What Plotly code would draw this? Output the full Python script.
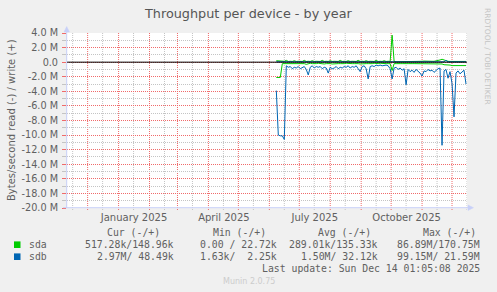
import plotly.graph_objects as go
import pandas as pd

# ---------------- data (values in millions of bytes/second) ----------------
dates = pd.date_range("2025-06-08", periods=96, freq="2D")

sda_write = [0.2, 0.2, 0.15, 0.1, 0.12,
             0.25, 0.1, 0.12, 0.1, 0.2,
             0.1, 0.12, 0.1, 0.1, 0.25,
             0.1, 0.12, 0.1, 0.2, 0.1,
             0.12, 0.1, 0.1, 0.25, 0.1,
             0.12, 0.1, 0.2, 0.1, 0.12,
             0.1, 0.1, 0.25, 0.1, 0.12,
             0.1, 0.2, 0.1, 0.12, 0.1,
             0.1, 0.25, 0.1, 0.12, 0.1,
             0.2, 0.1, 0.12, 0.1, 0.1,
             0.25, 0.1, 0.12, 0.1, 0.2,
             0.1, 0.12, 0.1, 3.7, 0.1,
             0.05, 0.05, 0.04, 0.05, 0.05,
             0.04, 0.05, 0.05, 0.04, 0.05,
             0.05, 0.05, 0.12, 0.12, 0.15,
             0.12, 0.12, 0.15, 0.12, 0.12,
             0.15, 0.2, 0.3, 0.4, 0.3,
             0.15, 0.12, 0.1, 0.1, 0.1,
             0.1, 0.1, 0.1, 0.1, 0.1,
             0.1]

sda_read = [2.1, 2.1, 2.1, 0.2, 0.2,
            0.15, 0.2, 0.25, 0.2, 0.15,
            0.2, 0.25, 0.2, 0.15, 0.2,
            0.3, 0.2, 0.15, 0.2, 0.25,
            0.2, 0.15, 0.2, 0.2, 0.25,
            0.2, 0.15, 0.2, 0.25, 0.2,
            0.15, 0.2, 0.2, 0.25, 0.2,
            0.15, 0.2, 0.25, 0.2, 0.2,
            0.15, 0.2, 0.25, 0.2, 0.15,
            0.2, 0.2, 0.25, 0.2, 0.15,
            0.2, 0.2, 0.15, 0.2, 0.25,
            0.2, 0.2, 0.2, 1.15, 0.2,
            0.2, 0.15, 0.2, 0.2, 0.25,
            0.2, 0.2, 0.15, 0.2, 0.2,
            0.2, 0.2, 0.15, 0.15, 0.15,
            0.15, 0.15, 0.15, 0.15, 0.15,
            0.15, 0.2, 0.25, 0.25, 0.35,
            0.35, 0.4, 0.4, 0.47, 0.47,
            0.47, 0.47, 0.47, 0.47, 0.47,
            0.47]

sdb_write = [0.05, 0.05, 0.04, 0.05, 0.05,
             0.05, 0.04, 0.05, 0.06, 0.05,
             0.04, 0.05, 0.05, 0.04, 0.05,
             0.05, 0.06, 0.05, 0.04, 0.05,
             0.05, 0.04, 0.05, 0.05, 0.06,
             0.05, 0.04, 0.05, 0.05, 0.04,
             0.05, 0.05, 0.06, 0.05, 0.04,
             0.05, 0.05, 0.04, 0.05, 0.05,
             0.06, 0.05, 0.04, 0.05, 0.05,
             0.04, 0.05, 0.05, 0.06, 0.05,
             0.04, 0.05, 0.05, 0.04, 0.05,
             0.05, 0.06, 0.05, 0.04, 0.05,
             0.05, 0.04, 0.05, 0.05, 0.06,
             0.05, 0.04, 0.05, 0.05, 0.04,
             0.05, 0.05, 0.06, 0.05, 0.04,
             0.05, 0.05, 0.04, 0.05, 0.05,
             0.06, 0.05, 0.04, 0.05, 0.05,
             0.25, 0.05, 0.05, 0.04, 0.05,
             0.05, 0.05, 0.04, 0.05, 0.05,
             0.05]

sdb_read = [3.9, 10.0, 10.1, 10.1, 10.6,
            0.5, 0.7, 0.6, 0.9, 0.7,
            0.8, 0.6, 0.9, 0.7, 0.6,
            1.0, 1.75, 0.7, 0.5, 0.8,
            0.6, 0.7, 0.6, 0.9, 0.7,
            0.8, 1.5, 0.7, 0.9, 0.8,
            0.6, 0.9, 0.7, 0.8, 0.6,
            0.7, 0.5, 0.8, 0.6, 0.7,
            0.5, 0.9, 1.3, 0.6, 0.5,
            0.9, 2.3, 0.6, 0.5, 0.6,
            0.4, 0.5, 0.4, 0.5, 0.4,
            0.4, 0.5, 0.9, 2.3, 0.8,
            0.7, 1.0, 0.8, 1.1, 0.9,
            3.1, 1.0, 1.3, 1.1, 1.4,
            1.0, 1.2, 1.5, 1.9, 1.2,
            1.3, 1.0, 1.2, 1.1, 1.4,
            1.1, 0.9, 0.8, 11.4, 1.2,
            1.0, 2.2, 1.3, 2.9, 7.5,
            1.5, 1.2, 1.6, 1.3, 1.1,
            3.0]

devices = ["sda", "sdb"]
device_colors = ["#00CC00", "#0066B3"]
cur_vals = ["517.28k/148.96k", "2.97M/ 48.49k"]
min_vals = ["0.00 / 22.72k", "1.63k/  2.25k"]
avg_vals = ["289.01k/135.33k", "1.50M/ 32.12k"]
max_vals = ["86.89M/170.75M", "99.15M/ 21.59M"]
col_headers = ["Cur (-/+)", "Min (-/+)", "Avg (-/+)", "Max (-/+)"]

y_tick_values = list(range(-20, 5, 2))
y_minor_values = list(range(-19, 4, 2))
x_label_dates = ["2025-01-16 12:00", "2025-04-16 12:00", "2025-07-16 12:00", "2025-10-16 12:00"]
x_labels = ["January 2025", "April 2025", "July 2025", "October 2025"]

title_text = "Throughput per device - by year"
y_title = "Bytes/second read (-) / write (+)"
last_update = "Last update: Sun Dec 14 01:05:08 2025"

# ---------------- layout helpers ----------------
W_FIG, H_FIG = 497, 292
L, T, W, H = 67, 33, 400, 175


def px(x):
    return (x - L) / W


def py(y):
    return 1 - (y - T) / H


def nb(s):
    return s.replace(" ", "\u00a0")


FONT = "DejaVu Sans"
MONO = "DejaVu Sans Mono"
TXT = "#606060"
MAJOR = "#F06A6A"
MINOR = "#C4C4C4"
AXIS = "#C8D0F8"

fig = go.Figure()

series = [(sda_read, sda_write), (sdb_read, sdb_write)]
for (rd, wr), name, col in zip(series, devices, device_colors):
    fig.add_trace(go.Scatter(x=dates, y=[-v for v in rd], mode="lines",
                             line=dict(color=col, width=1), name=name + " read"))
    fig.add_trace(go.Scatter(x=dates, y=wr, mode="lines",
                             line=dict(color=col, width=1), name=name + " write"))

shapes = []
# vertical grid lines: months (major) and mid-months (minor)
for d in pd.date_range("2024-11-01", "2025-12-01", freq="MS") + pd.Timedelta(days=15):
    shapes.append(dict(type="line", xref="x", yref="paper", x0=d, x1=d,
                       y0=py(210), y1=1, layer="below",
                       line=dict(color=MINOR, width=1, dash="1px,1px")))
for d in pd.date_range("2024-12-01", "2025-12-01", freq="MS"):
    shapes.append(dict(type="line", xref="x", yref="paper", x0=d, x1=d,
                       y0=py(210), y1=1, layer="below",
                       line=dict(color=MAJOR, width=1, dash="1px,1px")))

# zero line
shapes.append(dict(type="line", xref="paper", yref="y", x0=0, x1=1, y0=0, y1=0,
                   layer="above", line=dict(color="#000000", width=1)))

# axes with arrows
shapes.append(dict(type="line", xref="paper", yref="paper", x0=px(66.7), x1=px(66.7),
                   y0=py(208), y1=py(29), line=dict(color=AXIS, width=1)))
shapes.append(dict(type="line", xref="paper", yref="paper", x0=px(63), x1=px(470),
                   y0=py(207.7), y1=py(207.7), line=dict(color=AXIS, width=1)))
shapes.append(dict(type="path", xref="paper", yref="paper",
                   path=f"M {px(66.7)} {py(26.5)} L {px(64)} {py(32)} L {px(69.4)} {py(32)} Z",
                   fillcolor=AXIS, line=dict(color=AXIS, width=0.5)))
shapes.append(dict(type="path", xref="paper", yref="paper",
                   path=f"M {px(473.5)} {py(207.7)} L {px(468)} {py(205)} L {px(468)} {py(210.4)} Z",
                   fillcolor=AXIS, line=dict(color=AXIS, width=0.5)))

# legend colour squares
for i, col in enumerate(device_colors):
    yc = 244.7 + 12 * i
    shapes.append(dict(type="rect", xref="paper", yref="paper",
                       x0=px(14), x1=px(20.5), y0=py(yc + 3.3), y1=py(yc - 3.3),
                       fillcolor=col, line=dict(width=0)))

annotations = []
annotations.append(dict(text=title_text, x=px(248), y=py(13.5), xref="paper", yref="paper",
                        showarrow=False, xanchor="center", yanchor="middle",
                        font=dict(family=FONT, size=12.8, color="#555555")))
annotations.append(dict(text=y_title, x=px(11), y=py(120), xref="paper", yref="paper",
                        showarrow=False, xanchor="center", yanchor="middle", textangle=-90,
                        font=dict(family=FONT, size=10, color=TXT)))
annotations.append(dict(text="RRDTOOL / TOBI OETIKER", x=px(488), y=py(56), xref="paper", yref="paper",
                        showarrow=False, xanchor="center", yanchor="middle", textangle=90,
                        font=dict(family=FONT, size=7.5, color="#C4C4C4")))

header_x = [133.7, 239, 344.5, 449]
for hx, h in zip(header_x, col_headers):
    annotations.append(dict(text=nb(h), x=px(hx), y=py(232.7), xref="paper", yref="paper",
                            showarrow=False, xanchor="center", yanchor="middle",
                            font=dict(family=MONO, size=9.8, color=TXT)))

col_right = [175.7, 279, 380, 482.3]
for i, name in enumerate(devices):
    yc = 244.7 + 12 * i
    annotations.append(dict(text=name, x=px(26.5), y=py(yc), xref="paper", yref="paper",
                            showarrow=False, xanchor="left", yanchor="middle",
                            font=dict(family=MONO, size=9.8, color=TXT)))
    for cx, vals in zip(col_right, [cur_vals, min_vals, avg_vals, max_vals]):
        annotations.append(dict(text=nb(vals[i]), x=px(cx), y=py(yc), xref="paper", yref="paper",
                                showarrow=False, xanchor="right", yanchor="middle",
                                font=dict(family=MONO, size=9.8, color=TXT)))

annotations.append(dict(text=nb(last_update), x=px(482.3), y=py(268.7), xref="paper", yref="paper",
                        showarrow=False, xanchor="right", yanchor="middle",
                        font=dict(family=MONO, size=9.8, color=TXT)))
annotations.append(dict(text="Munin 2.0.75", x=px(249), y=py(281.5), xref="paper", yref="paper",
                        showarrow=False, xanchor="center", yanchor="middle",
                        font=dict(family=FONT, size=8, color="#CCCCCC")))


def ytext(v):
    return "0.0" if v == 0 else f"{v:.1f} M"


fig.update_layout(
    width=W_FIG, height=H_FIG,
    margin=dict(l=L, r=W_FIG - L - W, t=T, b=H_FIG - T - H, pad=0),
    paper_bgcolor="#F0F0F0", plot_bgcolor="#FFFFFF",
    showlegend=False,
    shapes=shapes, annotations=annotations,
    xaxis=dict(type="date", range=["2024-11-10 08:00", "2025-12-16 00:00"],
               showgrid=False, zeroline=False, showline=False,
               tickmode="array", tickvals=x_label_dates, ticktext=x_labels,
               ticks="", ticklabelstandoff=2,
               tickfont=dict(family=FONT, size=10, color=TXT), fixedrange=True),
    yaxis=dict(range=[-20, 4], zeroline=False, showline=False,
               tickmode="array", tickvals=y_tick_values,
               ticktext=[ytext(v) for v in y_tick_values],
               showgrid=True, gridcolor=MAJOR, griddash="1px,1px", gridwidth=1,
               ticks="outside", ticklen=4, tickcolor=MAJOR, tickwidth=1,
               ticklabelstandoff=2,
               minor=dict(tickmode="array", tickvals=y_minor_values, showgrid=True,
                          gridcolor=MINOR, griddash="1px,1px", gridwidth=1,
                          ticks="outside", ticklen=4, tickcolor=MINOR),
               tickfont=dict(family=FONT, size=9.7, color=TXT), fixedrange=True),
)

fig.write_html("out.html")
